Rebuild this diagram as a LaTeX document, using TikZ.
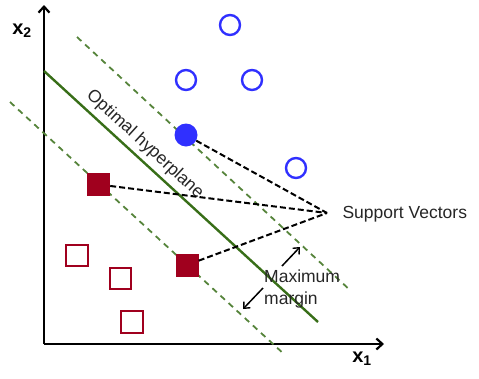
\documentclass[tikz,border=0pt]{standalone}
\usepackage{fontspec}
\setmainfont{Liberation Sans}
\usetikzlibrary{arrows.meta}
\definecolor{ptblue}{RGB}{48,48,255}
\definecolor{ptred}{RGB}{160,0,30}
\definecolor{hpgreen}{RGB}{56,110,24}
\tikzset{
  axis/.style={line width=2.4pt,-{Straight Barb[length=6pt,width=11pt,line width=2.2pt]}},
  opencirc/.style={circle,draw=ptblue,line width=2.4pt,minimum size=20pt,inner sep=0pt},
  fullcirc/.style={circle,fill=ptblue,minimum size=23pt,inner sep=0pt},
  opensq/.style={rectangle,draw=ptred,line width=2.4pt,minimum size=21.5pt,inner sep=0pt},
  fullsq/.style={rectangle,fill=ptred,minimum size=23pt,inner sep=0pt},
  hyper/.style={hpgreen,line width=2.4pt},
  marginline/.style={hpgreen!85,line width=1.8pt,dash pattern=on 6pt off 5pt},
  svline/.style={black,line width=2pt,dash pattern=on 6pt off 3pt},
  lbl/.style={font=\fontsize{17.5}{21.5}\selectfont,text=black!85},
  axlbl/.style={font=\fontsize{20}{22}\selectfont\bfseries},
  marrow/.style={line width=1.5pt,-{Straight Barb[length=5pt,width=9pt,line width=1.4pt]}}
}
\begin{document}
\begin{tikzpicture}[x=1pt,y=-1pt]
\useasboundingbox (0,0) rectangle (479,378);
% axes
\coordinate (origin) at (44,344);
\coordinate (ytip) at (44,5);
\coordinate (xtip) at (384,344);
\draw[axis] (origin) -- (ytip);
\draw[axis] (origin) -- (xtip);
\node[axlbl] (xtwo) at (22,31) {x\textsubscript{2}};
\node[axlbl] (xone) at (362,359) {x\textsubscript{1}};
% hyperplane and margins
\coordinate (hpA) at (44,71);
\coordinate (hpB) at (318,322);
\coordinate (upA) at (77,37);
\coordinate (upB) at (351,291);
\coordinate (loA) at (10,102);
\coordinate (loB) at (285,355);
\draw[marginline] (upA) -- (upB);
\draw[marginline] (loA) -- (loB);
\draw[hyper] (hpA) -- (hpB);
\node[lbl,rotate=-42.5,anchor=south] (hplabel) at (137,153) {Optimal hyperplane};
% points
\node[opencirc] (c1) at (230,25) {};
\node[opencirc] (c2) at (186,80) {};
\node[opencirc] (c3) at (252,80) {};
\node[opencirc] (c4) at (296,168) {};
\node[fullcirc] (sv1) at (186,135) {};
\node[fullsq] (sv2) at (98.5,184.5) {};
\node[fullsq] (sv3) at (187,265) {};
\node[opensq] (s1) at (77,255.5) {};
\node[opensq] (s2) at (120.5,278.5) {};
\node[opensq] (s3) at (132,322) {};
% support vectors
\coordinate (conv) at (327,213);
\node[lbl,anchor=west] (svtext) at (339,214) {Support Vectors};
\draw[svline] (sv1) -- (conv);
\draw[svline] (sv2) -- (conv);
\draw[svline] (sv3) -- (conv);
% maximum margin
\node[lbl,align=left,anchor=north west,inner sep=0pt] (mm) at (264,270) {Maximum\\margin};
\coordinate (mmtipA) at (300,247);
\coordinate (mmtipB) at (243,309);
\coordinate (mmstartA) at (282,266);
\coordinate (mmstartB) at (263,288);
\draw[marrow] (mmstartA) -- (mmtipA);
\draw[marrow] (mmstartB) -- (mmtipB);
\end{tikzpicture}
\end{document}
